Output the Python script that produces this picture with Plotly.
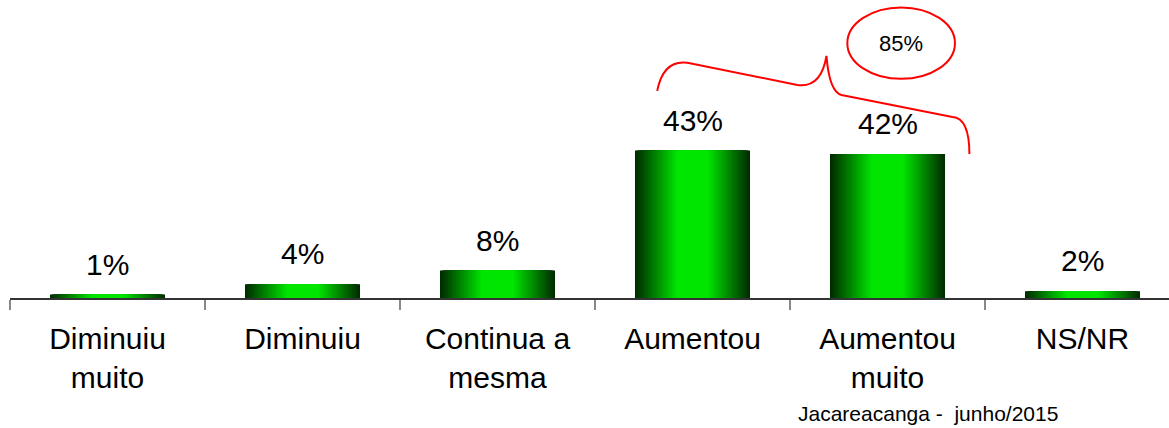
"""
Bar chart with green cylinder-like bars and a red brace grouping two bars
"""
import plotly.graph_objects as go

# data
categories = ["Diminuiu<br>muito", "Diminuiu", "Continua a<br>mesma",
              "Aumentou", "Aumentou<br>muito", "NS/NR"]
values = [1, 4, 8, 43, 42, 2]
group = [3, 4]  # bars summed under the brace
footer = "Jacareacanga -&nbsp; junho/2015"

FONT = "Arial, Liberation Sans, sans-serif"
BAR_W = 0.59
N_SLICES = 36

x_idx = list(range(len(categories)))


def shade(d):
    """green level for a distance d (0 = bar edge, 0.5 = centre)"""
    t = min(d / 0.36, 1.0)
    g = int(45 + 185 * t)
    return f"rgb(0,{g},0)"


fig = go.Figure()

# nested bars, widest and darkest first, give the horizontal gradient
for k in range(N_SLICES):
    w = BAR_W * (1 - k / N_SLICES)
    fig.add_trace(go.Bar(
        x=x_idx, y=values, width=w,
        marker=dict(color=shade(k / (2 * N_SLICES)), line=dict(width=0)),
        showlegend=False, hoverinfo='skip'
    ))

# value labels
for i, v in zip(x_idx, values):
    fig.add_annotation(
        x=i, y=v, text=f"{v}%", showarrow=False,
        yanchor='bottom', yshift=12,
        font=dict(family=FONT, size=30, color='black')
    )

# brace over the grouped bars, offsets from the first bar of the group
gx, gy = group[0], values[group[0]]
pts = {
    'p0': (-0.181, 17.4), 'c1': (-0.15, 26.5), 'p1': (-0.026, 25.6),
    'p2': (0.538, 19.1), 'c2': (0.66, 18.2), 'p3': (0.687, 27.6),
    'c3': (0.702, 17.1), 'p4': (0.764, 16.2), 'p5': (1.333, 9.8),
    'c4': (1.42, 9.5), 'p6': (1.42, -1.0),
}
P = {k: f"{gx + dx:.4f},{gy + dy:.3f}" for k, (dx, dy) in pts.items()}
brace = (f"M {P['p0']} Q {P['c1']} {P['p1']} L {P['p2']} "
         f"Q {P['c2']} {P['p3']} Q {P['c3']} {P['p4']} "
         f"L {P['p5']} Q {P['c4']} {P['p6']}")
fig.add_shape(type='path', path=brace, xref='x', yref='y',
              line=dict(color='red', width=2))

# ellipse with the group total
ex, ey = gx + 1.07, gy + 31.3
fig.add_shape(type='circle', xref='x', yref='y',
              x0=ex - 0.276, x1=ex + 0.276, y0=ey - 10.4, y1=ey + 10.4,
              line=dict(color='red', width=2))
fig.add_annotation(
    x=ex, y=ey, text=f"{sum(values[i] for i in group)}%", showarrow=False,
    font=dict(family=FONT, size=22, color='black')
)

# footer
fig.add_annotation(
    xref='paper', yref='paper', x=0.678, y=-0.388,
    xanchor='left', yanchor='middle', showarrow=False, text=footer,
    font=dict(family=FONT, size=21, color='black')
)

fig.update_layout(
    width=1169, height=428,
    margin=dict(l=10, r=0, t=0, b=130),
    barmode='overlay',
    plot_bgcolor='white', paper_bgcolor='white',
    xaxis=dict(
        range=[-0.5, -0.5 + 1159 / 195],
        tickmode='array', tickvals=x_idx, ticktext=categories,
        ticks='', showgrid=False, zeroline=False,
        showline=True, linecolor='#333', linewidth=1.5,
        tickfont=dict(family=FONT, size=30, color='black'),
        ticklabelstandoff=13,
        minor=dict(ticks='outside', ticklen=10, tickwidth=2,
                   tickcolor='#888', tickmode='linear', tick0=-0.5, dtick=1,
                   showgrid=False),
    ),
    yaxis=dict(range=[0, 298 / 3.43], visible=False),
)

fig.write_html("out.html", config={'displayModeBar': False},
               post_script="document.body.style.margin='0';")
